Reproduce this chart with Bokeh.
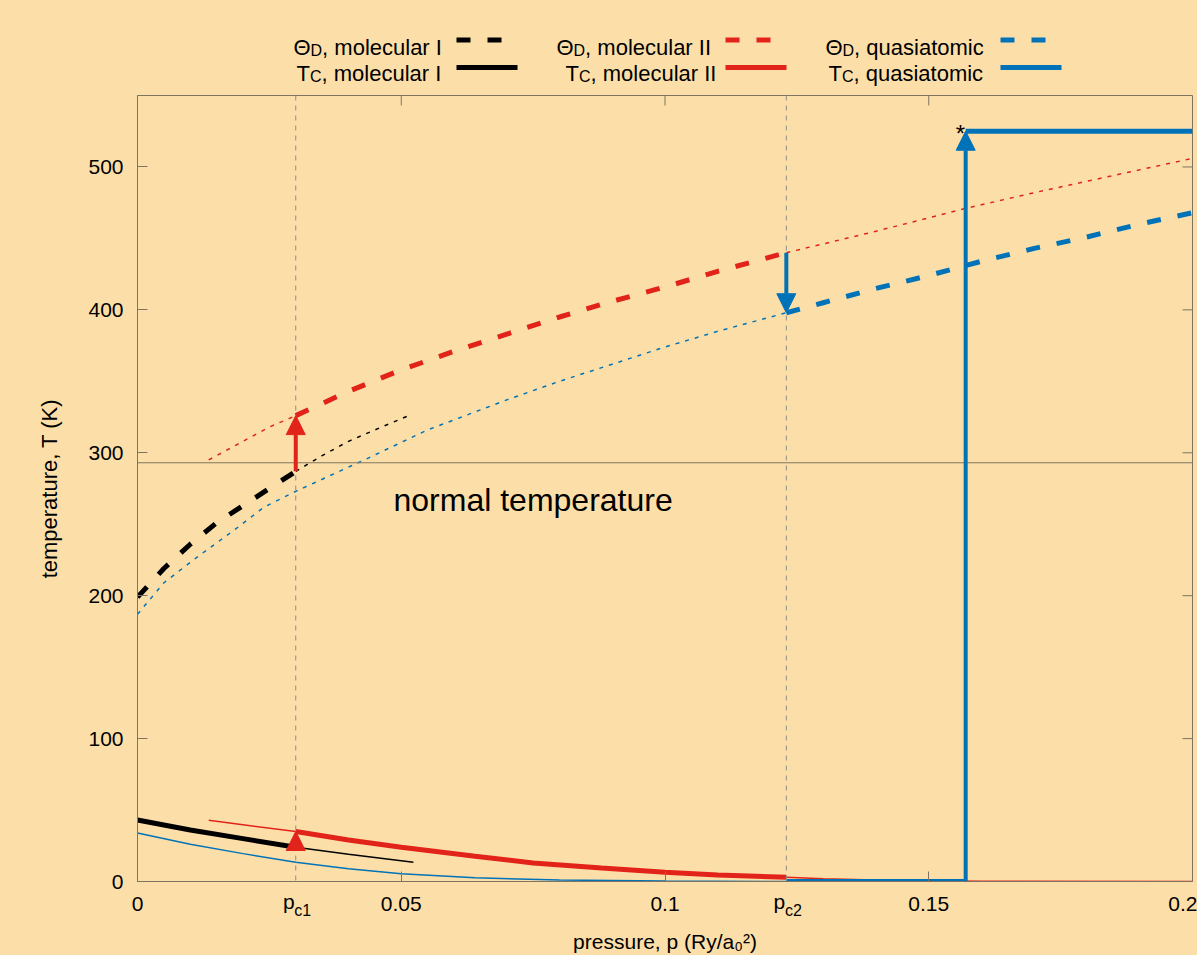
from bokeh.plotting import figure
from bokeh.layouts import column
from bokeh.models import Span, Label, Arrow, NormalHead, FixedTicker, LinearAxis, Range1d
from bokeh.core.properties import value
from bokeh.embed import file_html
from bokeh.resources import INLINE

# ---------------- data ----------------
pc1 = 0.03          # first critical pressure
pc2 = 0.123         # second critical pressure
p_jump = 0.157      # pressure of the jump of T_C (quasiatomic)
T_jump = 525        # T_C after the jump
T_normal = 293      # normal temperature

# Debye temperature, molecular I
thI_p = [0, 0.005, 0.01, 0.015, 0.02, 0.025, 0.03]
thI_T = [199, 219, 236, 251, 263, 275, 287]
thI_ext_p = [0.03, 0.035, 0.04, 0.045, 0.0514]
thI_ext_T = [287, 298, 308, 316, 326]

# Debye temperature, molecular II
thII_pre_p = [0.0135, 0.02, 0.025, 0.03]
thII_pre_T = [295, 308, 318, 326]
thII_p = [0.03, 0.04, 0.05, 0.06, 0.07, 0.08, 0.09, 0.10, 0.11, 0.123]
thII_T = [326, 343, 358, 371, 383, 395, 406, 416, 427, 440]
thII_post_p = [0.123, 0.14, 0.157, 0.17, 0.185, 0.2]
thII_post_T = [440, 455, 471, 482, 494, 506]

# Debye temperature, quasiatomic
thQ_pre_p = [0, 0.005, 0.0113, 0.018, 0.024, 0.03, 0.043, 0.055, 0.06, 0.07, 0.08, 0.09, 0.10, 0.11, 0.123]
thQ_pre_T = [187, 209, 227, 245, 262, 273, 295, 316, 323, 337, 350, 362, 374, 385, 398]
thQ_p = [0.123, 0.13, 0.14, 0.15, 0.16, 0.17, 0.18, 0.19, 0.2]
thQ_T = [398, 405, 415, 424, 434, 443, 451, 460, 468]

# Critical temperature, molecular I
tcI_p = [0, 0.01, 0.02, 0.03]
tcI_T = [43, 36, 30, 24]
tcI_ext_p = [0.03, 0.04, 0.0523]
tcI_ext_T = [24, 19, 13.5]

# Critical temperature, molecular II
tcII_pre_p = [0.0135, 0.02, 0.03]
tcII_pre_T = [42.8, 39.7, 35]
tcII_p = [0.03, 0.04, 0.05, 0.064, 0.075, 0.088, 0.1, 0.11, 0.123]
tcII_T = [35, 29, 24, 17.7, 13, 9.5, 6.5, 4.5, 3]
tcII_post_p = [0.123, 0.13, 0.14, 0.15, 0.16, 0.2]
tcII_post_T = [3, 2, 1, 0.5, 0.2, 0]

# Critical temperature, quasiatomic
tcQ_pre_p = [0, 0.01, 0.02, 0.03, 0.04, 0.05, 0.064, 0.08, 0.1, 0.123]
tcQ_pre_T = [34, 26, 19.5, 13.5, 9, 5.5, 2.6, 1, 0.3, 0]
tcQ_low_p = [pc2, p_jump]
tcQ_low_T = [0, 0]
tcQ_high_p = [p_jump, 0.2]
tcQ_high_T = [T_jump, T_jump]

x_ticks = [0, 0.05, 0.1, 0.15, 0.2]
x_tick_labels = ["0", "0.05", "0.1", "0.15", "0.2"]
y_ticks = [0, 100, 200, 300, 400, 500]
pc_subscripts = ["c1", "c2"]

legend_symbols = ["\u0398", "T"]
legend_subscripts = ["D", "C"]
legend_names = [", molecular I", ", molecular II", ", quasiatomic"]

# ---------------- style ----------------
BG = "#FCDFA8"
FRAME_C = "#7F7462"
BLACK = "#000000"
RED = "#E2231A"
BLUE = "#0072B8"
FONT = "Liberation Sans"
DASH = "14 17"
DOT = "4 6"
THICK = 5
THIN = 1.5

W, H = 1197, 955
LEG_H = 94
MAIN_H = H - LEG_H

# page-pixel geometry of the main frame
FL, FR, FT, FB = 137, 1192, 95, 882
X0, X1, Y0, Y1 = 0.0, 0.2, 0.0, 550.0
PX_PER_P = (FR - FL) / (X1 - X0)
PX_PER_T = (FB - FT) / (Y1 - Y0)


def dx(px):
    return X0 + (px - FL) / PX_PER_P


def dy(py):
    return Y0 + (FB - py) / PX_PER_T


# ---------------- legend strip (gnuplot style key: text, then sample) ----------------
# its frame is aligned with the main frame, and its ranges are in page pixels
leg = figure(width=W, height=LEG_H, x_range=Range1d(FL, FR), y_range=Range1d(LEG_H, 0),
             x_axis_type=None, y_axis_type=None, output_backend="svg", toolbar_location=None,
             background_fill_color=BG, border_fill_color=BG,
             min_border_left=FL, min_border_right=W - FR, min_border_top=0, min_border_bottom=0,
             outline_line_color=BG, outline_line_width=3,
             styles={"background-color": BG})
colors = [BLACK, RED, BLUE]
row_start = [[293, 556, 825], [296, 565, 828]]
sym_width = [17, 13.4]
sub_width = 11.6
row_base = [47, 73]
row_line = [39.5, 67]
sample_x = [456, 725, 1000]
sample_len = [45, 61]
for r in range(2):
    starts = row_start[r]
    leg.text(x=starts, y=[row_base[r]] * 3, text=[legend_symbols[r]] * 3,
             text_font=value(FONT), text_font_size="22px", text_baseline="alphabetic",
             text_color=BLACK)
    leg.text(x=[s + sym_width[r] for s in starts], y=[row_base[r] + 3] * 3,
             text=[legend_subscripts[r]] * 3, text_font=value(FONT), text_font_size="16px",
             text_baseline="alphabetic", text_color=BLACK)
    leg.text(x=[s + sym_width[r] + sub_width for s in starts], y=[row_base[r]] * 3,
             text=legend_names, text_font=value(FONT), text_font_size="22px",
             text_baseline="alphabetic", text_color=BLACK)
    for c in range(3):
        leg.line([sample_x[c], sample_x[c] + sample_len[r]], [row_line[r], row_line[r]],
                 line_color=colors[c], line_width=THICK,
                 line_dash=DASH if r == 0 else "solid")

# ---------------- main chart ----------------
p = figure(width=W, height=MAIN_H, x_range=Range1d(X0, X1), y_range=Range1d(Y0, Y1),
           output_backend="svg", toolbar_location=None,
           background_fill_color=BG, border_fill_color=BG,
           min_border_left=FL, min_border_right=W - FR,
           min_border_top=FT - LEG_H, min_border_bottom=H - FB,
           styles={"background-color": BG})
p.grid.visible = False
p.outline_line_color = FRAME_C
p.outline_line_width = 1


def style_axis(ax, size="21px"):
    ax.axis_line_color = FRAME_C
    ax.major_tick_line_color = FRAME_C
    ax.major_tick_in = 10
    ax.major_tick_out = 0
    ax.minor_tick_in = 0
    ax.minor_tick_out = 0
    ax.minor_tick_line_color = None
    ax.major_label_text_font = FONT
    ax.major_label_text_font_size = size
    ax.major_label_text_color = BLACK
    ax.axis_label_text_color = BLACK


xa = p.xaxis[0]
xa.ticker = FixedTicker(ticks=x_ticks)
xa.major_label_overrides = {t: s for t, s in zip(x_ticks, x_tick_labels)}
style_axis(xa)
xa.major_label_standoff = 15

ya = p.yaxis[0]
ya.ticker = FixedTicker(ticks=y_ticks)
style_axis(ya)
ya.major_label_standoff = 14
ya.axis_label = "temperature, T (K)"
ya.axis_label_text_font = FONT
ya.axis_label_text_font_size = "22px"
ya.axis_label_text_font_style = "normal"
ya.axis_label_standoff = 23

# p_c tick labels: "p" and its subscript, on two extra label-only axes
shift = 7 / PX_PER_P
p_ticks = [pc1 - shift, pc2 - shift]
sub_ticks = [pc1 + shift, pc2 + shift]
ax_p = LinearAxis(ticker=FixedTicker(ticks=p_ticks),
                  major_label_overrides={t: "p" for t in p_ticks})
style_axis(ax_p)
ax_p.axis_line_color = None
ax_p.major_tick_line_color = None
ax_p.major_label_standoff = -24
p.add_layout(ax_p, "below")
ax_sub = LinearAxis(ticker=FixedTicker(ticks=sub_ticks),
                    major_label_overrides={t: s for t, s in zip(sub_ticks, pc_subscripts)})
style_axis(ax_sub, "16px")
ax_sub.axis_line_color = None
ax_sub.major_tick_line_color = None
ax_sub.major_label_standoff = -14
ax_sub.axis_label = "pressure, p (Ry/a\u2080\u00b2)"
ax_sub.axis_label_text_font = FONT
ax_sub.axis_label_text_font_size = "21px"
ax_sub.axis_label_text_font_style = "normal"
ax_sub.axis_label_standoff = 8
p.add_layout(ax_sub, "below")

# mirror ticks on the top and right edges (gnuplot border tics)
tick_T = 10 / PX_PER_T
tick_P = 10 / PX_PER_P
p.segment(x0=x_ticks, y0=[Y1] * len(x_ticks), x1=x_ticks, y1=[Y1 - tick_T] * len(x_ticks),
          line_color=FRAME_C, line_width=1)
p.segment(x0=[X1] * len(y_ticks), y0=y_ticks, x1=[X1 - tick_P] * len(y_ticks), y1=y_ticks,
          line_color=FRAME_C, line_width=1)

# reference lines
p.add_layout(Span(location=T_normal, dimension="width", line_color=FRAME_C, line_width=1))
for loc in (pc1, pc2):
    p.add_layout(Span(location=loc, dimension="height", line_color="#8C8C8C",
                      line_width=1, line_dash="5 5"))

# thin / dotted continuations
p.line(thI_ext_p, thI_ext_T, line_color=BLACK, line_width=THIN, line_dash=DOT)
p.line(thII_pre_p, thII_pre_T, line_color=RED, line_width=THIN, line_dash=DOT)
p.line(thII_post_p, thII_post_T, line_color=RED, line_width=THIN, line_dash=DOT)
p.line(thQ_pre_p, thQ_pre_T, line_color=BLUE, line_width=THIN, line_dash=DOT)
p.line(tcI_ext_p, tcI_ext_T, line_color=BLACK, line_width=THIN)
p.line(tcII_pre_p, tcII_pre_T, line_color=RED, line_width=THIN)
p.line(tcII_post_p, tcII_post_T, line_color=RED, line_width=THIN)
p.line(tcQ_pre_p, tcQ_pre_T, line_color=BLUE, line_width=THIN)

# thick stable-phase curves
p.line(thI_p, thI_T, line_color=BLACK, line_width=THICK, line_dash=DASH)
p.line(thII_p, thII_T, line_color=RED, line_width=THICK, line_dash=DASH)
p.line(thQ_p, thQ_T, line_color=BLUE, line_width=THICK, line_dash=DASH)
p.line(tcI_p, tcI_T, line_color=BLACK, line_width=THICK)
p.line(tcII_p, tcII_T, line_color=RED, line_width=THICK)
p.line(tcQ_low_p, tcQ_low_T, line_color=BLUE, line_width=THICK)
p.line(tcQ_high_p, tcQ_high_T, line_color=BLUE, line_width=THICK)


def arrow(x0, y0, x1, y1, color):
    p.add_layout(Arrow(end=NormalHead(size=19, fill_color=color, line_color=color, line_width=1),
                       x_start=x0, y_start=y0, x_end=x1, y_end=y1,
                       line_color=color, line_width=4))


arrow(pc1, thI_T[-1], pc1, thII_T[0], RED)
arrow(pc1, tcI_T[-1], pc1, tcII_T[0], RED)
arrow(pc2, thII_T[-1], pc2, thQ_T[0], BLUE)
arrow(p_jump, tcQ_low_T[-1], p_jump, tcQ_high_T[0], BLUE)

# texts inside the frame
p.add_layout(Label(x=dx(393), y=dy(500), text="normal temperature", text_font=FONT,
                   text_font_size="32px", text_baseline="alphabetic", text_color=BLACK))
p.add_layout(Label(x=dx(960), y=dy(133), text="*", text_font=FONT, text_font_size="24px",
                   text_align="center", text_baseline="middle", text_color=BLACK))

layout = column(leg, p, styles={"background-color": BG})
open("out.html", "w").write(file_html(layout, INLINE, "Debye and critical temperatures"))
